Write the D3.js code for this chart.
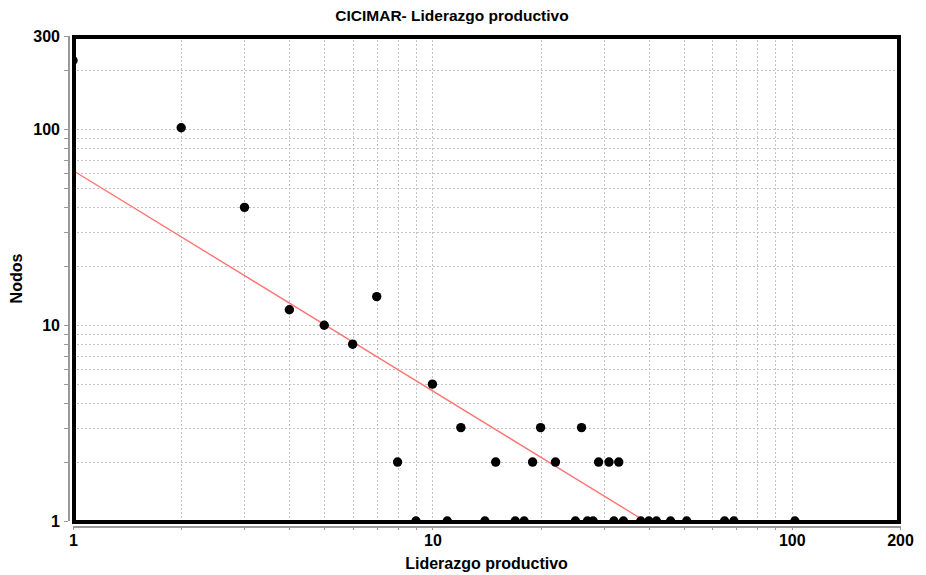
<!DOCTYPE html>
<head>
<meta charset="utf-8">
<style>
body { margin: 0; background: #fff; }
text { font-family: "Liberation Sans", Arial, sans-serif; font-weight: bold; fill: #000; }
.grid line { stroke: #c4c4c4; stroke-width: 1px; stroke-dasharray: 2,2; shape-rendering: crispEdges; }
.axis path, .axis line { stroke: #999; shape-rendering: crispEdges; }
.axis text { font-size: 16px; }
</style>
<script src="https://cdn.jsdelivr.net/npm/d3@7"></script>
</head>
<body>
<svg width="926" height="575"></svg>
<script>

// liderazgo productivo (x) / nodos (y)
var liderazgo = [1, 2, 3, 4, 5, 6, 7, 8, 10, 12, 15, 19, 20, 22, 26, 29, 31, 33,
                 9, 11, 14, 17, 18, 25, 27, 28, 32, 34, 38, 40, 42, 46, 51, 65, 69, 102];
var nodos     = [225, 102, 40, 12, 10, 8, 14, 2, 5, 3, 2, 2, 3, 2, 3, 2, 2, 2,
                 1, 1, 1, 1, 1, 1, 1, 1, 1, 1, 1, 1, 1, 1, 1, 1, 1, 1];

// fitted power-law line, endpoints
var fitX = [1, 39];
var fitY = [61.7, 1];

var xLabels = [1, 10, 100, 200];
var yLabels = [1, 10, 100, 300];

var svg = d3.select("svg"),
    pLeft = 73, pRight = 900, pTop = 36, pBottom = 521;

var x = d3.scaleLog().domain([1, 200]).range([pLeft, pRight]);
var y = d3.scaleLog().domain([1, 300]).range([pBottom, pTop]);

svg.append("defs").append("clipPath").attr("id", "plotclip")
  .append("rect")
    .attr("x", pLeft).attr("y", pTop)
    .attr("width", pRight - pLeft).attr("height", pBottom - pTop);

// grid
var grid = svg.append("g").attr("class", "grid");
grid.selectAll(".gx").data(x.ticks()).enter().append("line")
    .attr("x1", function(d) { return Math.round(x(d)) + 0.5; })
    .attr("x2", function(d) { return Math.round(x(d)) + 0.5; })
    .attr("y1", pTop).attr("y2", pBottom);
grid.selectAll(".gy").data(y.ticks()).enter().append("line")
    .attr("y1", function(d) { return Math.round(y(d)) + 0.5; })
    .attr("y2", function(d) { return Math.round(y(d)) + 0.5; })
    .attr("x1", pLeft).attr("x2", pRight);

// axes (offset from the plot like the original)
var xAxis = d3.axisBottom(x).tickValues(x.ticks()).tickSize(4).tickPadding(5)
    .tickFormat(function(d) { return xLabels.indexOf(d) >= 0 ? d : ""; });
svg.append("g").attr("class", "axis")
    .attr("transform", "translate(0," + (pBottom + 5) + ")")
    .call(xAxis)
    .call(function(g) { g.select(".domain").attr("d", "M" + pLeft + ",0.5H" + pRight).style("stroke-width", 2); });

var yAxis = d3.axisLeft(y).tickValues(y.ticks()).tickSize(4).tickPadding(4)
    .tickFormat(function(d) { return yLabels.indexOf(d) >= 0 ? d : ""; });
svg.append("g").attr("class", "axis")
    .attr("transform", "translate(" + (pLeft - 5) + ",0)")
    .call(yAxis)
    .call(function(g) { g.select(".domain").attr("d", "M0.5," + pTop + "V" + pBottom).style("stroke-width", 2); });

svg.selectAll(".axis text").style("font-size", "16px");

// fit line and points
var plot = svg.append("g").attr("clip-path", "url(#plotclip)");

plot.append("path")
    .datum(d3.zip(fitX, fitY))
    .attr("fill", "none")
    .attr("stroke", "#ff7474")
    .attr("stroke-width", 1.4)
    .attr("d", d3.line().x(function(d) { return x(d[0]); }).y(function(d) { return y(d[1]); }));

plot.selectAll("circle")
    .data(d3.zip(liderazgo, nodos))
    .enter().append("circle")
    .attr("cx", function(d) { return x(d[0]); })
    .attr("cy", function(d) { return y(d[1]); })
    .attr("r", 4.7)
    .attr("fill", "#000");

// plot outline
svg.append("rect")
    .attr("x", pLeft + 1).attr("y", pTop + 1)
    .attr("width", pRight - pLeft - 2).attr("height", pBottom - pTop)
    .attr("fill", "none")
    .attr("stroke", "#000")
    .attr("stroke-width", 4);

// titles
svg.append("text")
    .attr("x", 452).attr("y", 21)
    .attr("text-anchor", "middle")
    .style("font-size", "15.5px")
    .text("CICIMAR- Liderazgo productivo");

svg.append("text")
    .attr("x", (pLeft + pRight) / 2).attr("y", 569)
    .attr("text-anchor", "middle")
    .style("font-size", "16px")
    .text("Liderazgo productivo");

svg.append("text")
    .attr("transform", "translate(22," + ((pTop + pBottom) / 2) + ") rotate(-90)")
    .attr("text-anchor", "middle")
    .style("font-size", "16px")
    .text("Nodos");

</script>
</body>
</html>
